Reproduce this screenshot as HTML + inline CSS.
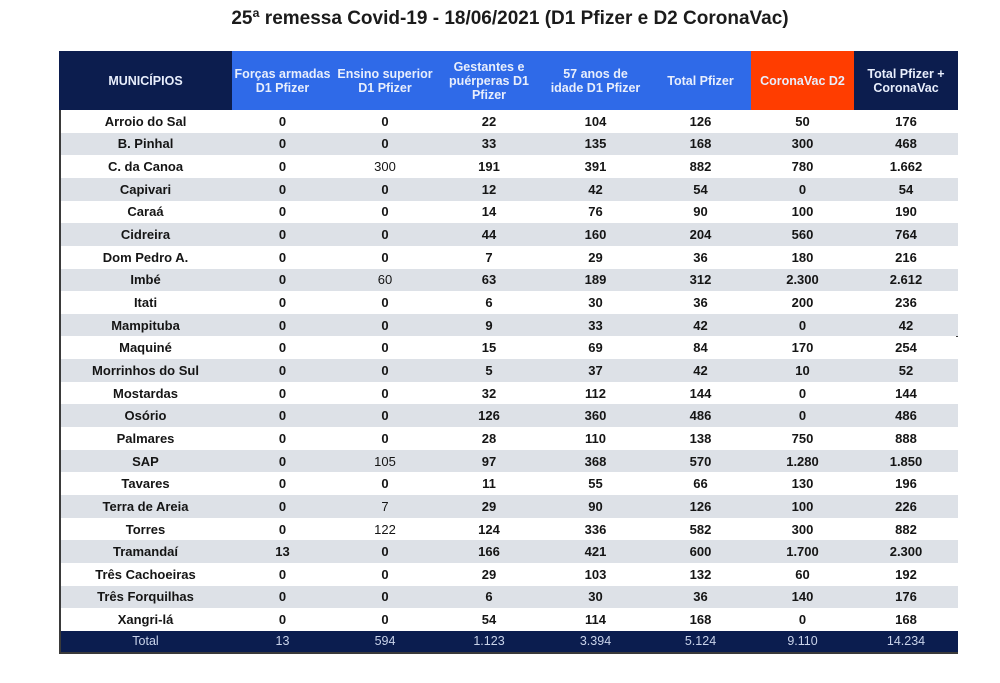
<!DOCTYPE html>
<html><head><meta charset="utf-8"><style>
body{margin:0;width:1000px;height:683px;background:#fff;font-family:"Liberation Sans",sans-serif;overflow:hidden;position:relative}
#title{position:absolute;left:0;width:1020px;top:8px;text-align:center;font-size:19px;font-weight:bold;color:#1b1b1b}
#tbl{position:absolute;left:59px;top:51px;width:899px;height:603px;border:2px solid #3a3a3a;box-sizing:border-box;border-top-color:#1a1a1a}
.c{position:absolute;display:flex;align-items:center;justify-content:center;text-align:center;box-sizing:border-box}
.h{color:#fff;font-size:12.5px;font-weight:bold;line-height:14px;color:#e8eefc}
.d{font-size:13px;font-weight:bold;color:#151515}
.t{font-size:12.5px;color:#c9d3ea}
</style></head><body>
<div id="title">25ª remessa Covid-19 - 18/06/2021 (D1 Pfizer e D2 CoronaVac)</div>
<div id="tbl"></div>
<script>
const headers=["MUNICÍPIOS","Forças armadas<br>D1 Pfizer","Ensino superior<br>D1 Pfizer","Gestantes e<br>puérperas D1<br>Pfizer","57 anos de<br>idade D1 Pfizer","Total Pfizer","CoronaVac D2","Total Pfizer +<br>CoronaVac"];
const municipios=["Arroio do Sal","B. Pinhal","C. da Canoa","Capivari","Caraá","Cidreira","Dom Pedro A.","Imbé","Itati","Mampituba","Maquiné","Morrinhos do Sul","Mostardas","Osório","Palmares","SAP","Tavares","Terra de Areia","Torres","Tramandaí","Três Cachoeiras","Três Forquilhas","Xangri-lá"];
const forcas=["0","0","0","0","0","0","0","0","0","0","0","0","0","0","0","0","0","0","0","13","0","0","0"];
const ensino=["0","0","300","0","0","0","0","60","0","0","0","0","0","0","0","105","0","7","122","0","0","0","0"];
const gestantes=["22","33","191","12","14","44","7","63","6","9","15","5","32","126","28","97","11","29","124","166","29","6","54"];
const anos57=["104","135","391","42","76","160","29","189","30","33","69","37","112","360","110","368","55","90","336","421","103","30","114"];
const totalPfizer=["126","168","882","54","90","204","36","312","36","42","84","42","144","486","138","570","66","126","582","600","132","36","168"];
const coronavac=["50","300","780","0","100","560","180","2.300","200","0","170","10","0","0","750","1.280","130","100","300","1.700","60","140","0"];
const totalGeral=["176","468","1.662","54","190","764","216","2.612","236","42","254","52","144","486","888","1.850","196","226","882","2.300","192","176","168"];
const totals=["Total","13","594","1.123","3.394","5.124","9.110","14.234"];
const colEdges=[59,232,333,437,541,650,751,854,958];
const headBg=["#0c1d4e","#2f6ae8","#2f6ae8","#2f6ae8","#2f6ae8","#2f6ae8","#ff3d00","#0c1d4e"];
const tbl=document.getElementById('tbl');
const ox=61,oy=53,headH=57,rowH=22.65;
function cell(cls,x0,x1,y,h,html,bg){const d=document.createElement('div');d.className='c '+cls;d.style.left=(x0-ox)+'px';d.style.width=(x1-x0)+'px';d.style.top=y+'px';d.style.height=h+'px';if(bg)d.style.background=bg;d.innerHTML=html;tbl.appendChild(d);return d;}
headers.forEach((h,i)=>{const d=cell('h',colEdges[i],colEdges[i+1],-2,headH+2,h,headBg[i]);

});
const cols=[municipios,forcas,ensino,gestantes,anos57,totalPfizer,coronavac,totalGeral];
municipios.forEach((m,r)=>{const y=headH+r*rowH;const bg=r%2?'#dde1e7':'#fff';
const row=cell('',61,958,y,rowH,'',bg);


cols.forEach((c,i)=>{const d=cell('d',colEdges[i],colEdges[i+1],y,rowH,c[r]);
if(i===2&&c[r]!=="0"){d.style.fontWeight='normal';}

});});
const ty=headH+municipios.length*rowH;
const tr=cell('',61,958,ty,599-ty,'','#0b1d4f');


totals.forEach((t,i)=>{const d=cell('t',colEdges[i],colEdges[i+1],ty,599-ty,t);

});
</script>
</body></html>
